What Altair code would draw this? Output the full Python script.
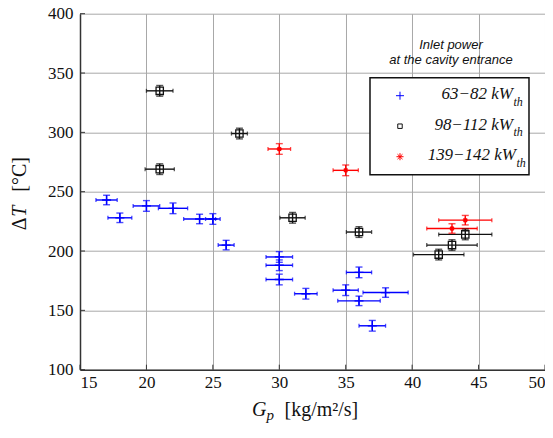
import altair as alt
import pandas as pd

# ---- data ----
groups = ["63-82", "98-112", "139-142"]
legend_labels = ["63\u221282 kW", "98\u2212112 kW", "139\u2212142 kW"]
legend_sub = "th"
legend_title = ["Inlet power", "at the cavity entrance"]

blue_x = [17, 18, 20, 22, 24, 25, 26, 30, 30, 30, 32, 35, 36, 36, 37, 38]
blue_y = [243, 228, 238, 236, 227, 227, 205, 195, 188, 176, 164, 167, 158, 182, 137, 165]
blue_xerr = [0.8, 0.9, 1.0, 1.1, 1.2, 0.55, 0.6, 1.0, 1.0, 1.0, 0.85, 0.95, 1.6, 0.95, 1.0, 1.7]
blue_yerr = [4, 4, 4.5, 4.5, 4, 4.5, 4, 4.5, 4.5, 4.5, 4.5, 4.5, 4, 4.5, 4.5, 4]

black_x = [21, 21, 27, 31, 36, 42, 43, 44]
black_y = [335, 269, 299, 228, 216, 197, 205, 214]
black_xerr = [1.0, 1.1, 0.6, 0.95, 0.95, 1.9, 1.9, 2.0]
black_yerr = [4.5, 4.5, 4.5, 4.5, 4.5, 4.5, 4.5, 4.5]

red_x = [30, 35, 43, 44]
red_y = [286, 268, 219, 226]
red_xerr = [0.85, 0.95, 1.9, 2.0]
red_yerr = [4.5, 4.5, 4, 4]

x_ticks = [15, 20, 25, 30, 35, 40, 45, 50]
y_ticks = [100, 150, 200, 250, 300, 350, 400]

colors = ["#0000ff", "#111111", "#ff0000"]
PLUS = "M-1,0L1,0M0,-1L0,1"
STAR = "M-1,0L1,0M0,-1L0,1M-0.7,-0.7L0.7,0.7M-0.7,0.7L0.7,-0.7"

rows = []
for g, xs_, ys_, xe, ye in [
    (groups[0], blue_x, blue_y, blue_xerr, blue_yerr),
    (groups[1], black_x, black_y, black_xerr, black_yerr),
    (groups[2], red_x, red_y, red_xerr, red_yerr),
]:
    for x, y, a, b in zip(xs_, ys_, xe, ye):
        rows.append(dict(g=g, x=x, y=y, xlo=x - a, xhi=x + a, ylo=y - b, yhi=y + b))
df = pd.DataFrame(rows)

W, H = 465, 356
SERIF = "Liberation Serif, Times New Roman, Times, DejaVu Serif, serif"
SANS = "Liberation Sans, Arial, Helvetica, sans-serif"

xs = alt.Scale(domain=[15, 50], nice=False, zero=False)
ys = alt.Scale(domain=[100, 400], nice=False, zero=False)
xaxis = alt.Axis(values=x_ticks, title=None, grid=True, labelPadding=5)
yaxis = alt.Axis(values=y_ticks, title=None, grid=True, labelPadding=7)
color = alt.Color("g:N", scale=alt.Scale(domain=groups, range=colors), legend=None)

base = alt.Chart(df)

xerr = base.mark_rule(strokeWidth=1.4).encode(
    x=alt.X("xlo:Q", scale=xs, axis=xaxis), x2="xhi:Q",
    y=alt.Y("y:Q", scale=ys, axis=yaxis), color=color)
yerr = base.mark_rule(strokeWidth=1.4).encode(
    x=alt.X("x:Q", scale=xs), y=alt.Y("ylo:Q", scale=ys), y2="yhi:Q", color=color)
ycaps = base.transform_fold(["ylo", "yhi"], as_=["k", "yc"]).mark_tick(
    orient="horizontal", size=7, thickness=1.4).encode(
    x=alt.X("x:Q", scale=xs), y=alt.Y("yc:Q", scale=ys), color=color)
xcaps = base.transform_fold(["xlo", "xhi"], as_=["k", "xc"]).mark_tick(
    orient="vertical", size=4, thickness=1.3).encode(
    x=alt.X("xc:Q", scale=xs), y=alt.Y("y:Q", scale=ys), color=color)
pts = base.mark_point(filled=False, strokeWidth=1.3, opacity=1).encode(
    x=alt.X("x:Q", scale=xs), y=alt.Y("y:Q", scale=ys), color=color,
    shape=alt.Shape("g:N", scale=alt.Scale(domain=groups, range=[PLUS, "square", STAR]), legend=None),
    size=alt.Size("g:N", scale=alt.Scale(domain=groups, range=[81, 26, 70]), legend=None))

# inward ticks
xt = alt.Chart(pd.DataFrame({"t": x_ticks})).mark_rule(color="#333", strokeWidth=1).encode(
    x=alt.X("t:Q", scale=xs), y=alt.value(H - 5), y2=alt.value(H))
yt = alt.Chart(pd.DataFrame({"t": y_ticks})).mark_rule(color="#333", strokeWidth=1).encode(
    y=alt.Y("t:Q", scale=ys), x=alt.value(0), x2=alt.value(5))

one = pd.DataFrame({"a": [0]})
layers = [xerr, yerr, ycaps, xcaps, pts, xt, yt]

# legend title
for i, t in enumerate(legend_title):
    layers.append(alt.Chart(pd.DataFrame({"t": [t]})).mark_text(
        font=SANS, fontStyle="italic", fontSize=13, align="center", baseline="alphabetic",
        color="#111").encode(text="t:N", x=alt.value(371), y=alt.value(35 + 15.5 * i)))

# legend box
layers.append(alt.Chart(one).mark_rect(fill="white", stroke="#111", strokeWidth=1.5).encode(
    x=alt.value(290), x2=alt.value(449), y=alt.value(64), y2=alt.value(161)))

leg_y = [82, 112.5, 143]
leg_sym = [PLUS, "square", STAR]
leg_size = [64, 20, 50]
leg_text_x = [433, 433, 436]
for i in range(3):
    layers.append(alt.Chart(one).mark_point(
        shape=leg_sym[i], size=leg_size[i], filled=False, color=colors[i], strokeWidth=1, opacity=1).encode(
        x=alt.value(320), y=alt.value(leg_y[i])))
    layers.append(alt.Chart(pd.DataFrame({"t": [legend_labels[i]]})).mark_text(
        font=SERIF, fontStyle="italic", fontSize=17, align="right", baseline="alphabetic",
        color="#111").encode(text="t:N", x=alt.value(leg_text_x[i]), y=alt.value(leg_y[i] + 3.5)))
    layers.append(alt.Chart(pd.DataFrame({"t": [legend_sub]})).mark_text(
        font=SERIF, fontStyle="italic", fontSize=12, align="left", baseline="alphabetic",
        color="#111").encode(text="t:N", x=alt.value(leg_text_x[i] + 0.5), y=alt.value(leg_y[i] + 10)))

# x title
layers.append(alt.Chart(pd.DataFrame({"t": ["G"]})).mark_text(
    font=SERIF, fontStyle="italic", fontSize=20, align="left", baseline="alphabetic", color="#111").encode(
    text="t:N", x=alt.value(172), y=alt.value(402)))
layers.append(alt.Chart(pd.DataFrame({"t": ["p"]})).mark_text(
    font=SERIF, fontStyle="italic", fontSize=15, align="left", baseline="alphabetic", color="#111").encode(
    text="t:N", x=alt.value(186.5), y=alt.value(406.5)))
layers.append(alt.Chart(pd.DataFrame({"t": ["[kg/m\u00b2/s]"]})).mark_text(
    font=SERIF, fontSize=20, align="left", baseline="alphabetic", color="#111").encode(
    text="t:N", x=alt.value(204.5), y=alt.value(402)))

# y title (rotated pieces)
for t, ypos, st in [("\u0394", 216.5, "normal"), ("T", 203, "italic"), ("[\u00b0C]", 178, "normal")]:
    layers.append(alt.Chart(pd.DataFrame({"t": [t]})).mark_text(
        font=SERIF, fontStyle=st, fontSize=20, align="left", baseline="alphabetic", angle=270,
        color="#111").encode(text="t:N", x=alt.value(-54), y=alt.value(ypos)))

chart = alt.layer(*layers).properties(
    width=W, height=H,
    autosize=alt.AutoSizeParams(type="none"),
    padding={"left": 72.0, "top": 5.7, "right": 0, "bottom": 54},
).configure_view(stroke=None).configure_axis(
    labelFont=SERIF, labelFontSize=17, labelColor="#111",
    domainColor="#333", domainWidth=1.5, ticks=False, tickSize=0,
    gridColor="#a8a8a8", gridWidth=1, gridOpacity=1,
)

chart.save("out.html", embed_options={"renderer": "svg", "actions": False})
